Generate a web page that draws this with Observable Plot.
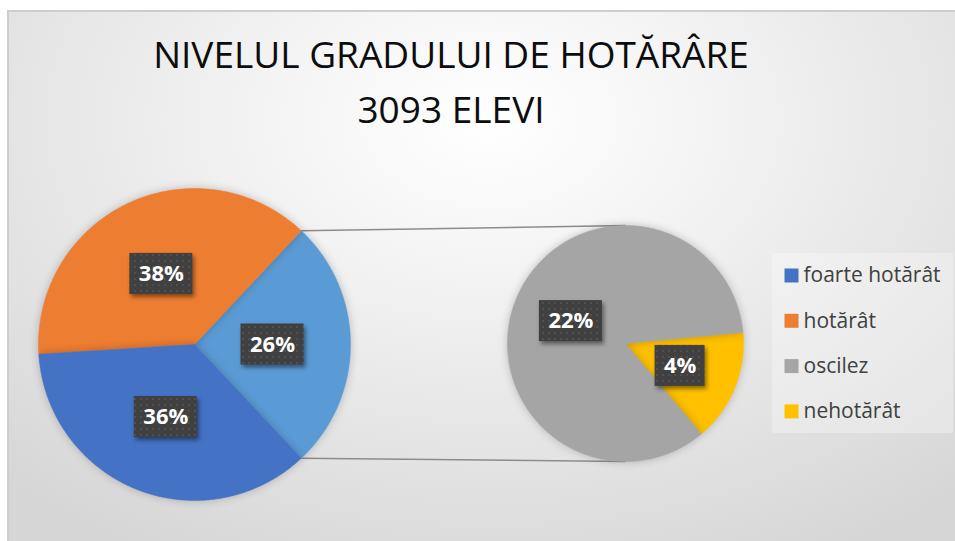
<!DOCTYPE html>
<html>
<head>
<meta charset="utf-8">
<script src="https://cdn.jsdelivr.net/npm/d3@7"></script>
<script src="https://cdn.jsdelivr.net/npm/@observablehq/plot@0.6"></script>
<style>
  body { margin: 0; background: #fff; }
  #wrap { position: relative; width: 955px; height: 541px; overflow: hidden; background: #fff; }
  #bg { position: absolute; left: 7px; top: 10px; width: 960px; height: 545px;
        border-top: 2px solid #cdcdcd; border-left: 2px solid #cdcdcd;
        background: radial-gradient(ellipse 75% 90% at 50% 20%, #ffffff 0%, #f4f4f4 30%, #d6d6d6 100%); }
  #title { position: absolute; left: 0; top: 26px; width: 902px; text-align: center;
           font-family: "Open Sans", sans-serif; font-size: 37px; line-height: 55px; color: #0d0d0d; }
  #plot { position: absolute; left: 0; top: 150px; }
</style>
</head>
<body>
<div id="wrap">
  <div id="bg"></div>
  <div id="title"></div>
  <div id="plot"></div>
</div>
<script>
// ---- data ----
const titleLines = ["NIVELUL GRADULUI DE HOTĂRÂRE", "3093 ELEVI"];
const categories = ["foarte hotărât", "hotărât", "oscilez", "nehotărât"];
const values = [36, 38, 22, 4];
const colors = ["#4472C4", "#ED7D31", "#A5A5A5", "#FFC000"];
const otherColor = "#5B9BD5";
const mainIdx = [0, 1];      // shown in the main pie
const secondIdx = [2, 3];    // split out into the secondary pie

// ---- layout ----
const W = 955, H = 391;
const pie1 = {cx: 194, cy: 194, r: 156};
const pie2 = {cx: 625, cy: 193, r: 118};
const pie2Start = -50;  // degrees, CCW
const legend = {x: 791, textX: 803, top: 125, step: 45.3};

document.getElementById("title").innerHTML = titleLines.join("<br>");

const total = d3.sum(values);
const otherVal = d3.sum(secondIdx, i => values[i]);

const slices = [];
const labelsData = [];
function addSlice(pie, key, a0, a1, color, label) {
  const pts = [{x: pie.cx, y: pie.cy}];
  const n = Math.ceil((a1 - a0) / 0.5);
  for (let k = 0; k <= n; k++) {
    const a = (a0 + (a1 - a0) * k / n) * Math.PI / 180;
    pts.push({x: pie.cx + pie.r * Math.cos(a), y: pie.cy - pie.r * Math.sin(a)});
  }
  pts.push({x: pie.cx, y: pie.cy});
  slices.push({key, color, pts});
  const m = ((a0 + a1) / 2) * Math.PI / 180;
  labelsData.push({label, x: pie.cx + 0.5 * pie.r * Math.cos(m), y: pie.cy - 0.5 * pie.r * Math.sin(m)});
}

// main pie: other, hotărât, foarte hotărât (CCW), "other" centred on the right
const mainSlices = [{key: "other", v: otherVal, color: otherColor},
  ...mainIdx.slice().reverse().map(i => ({key: categories[i], v: values[i], color: colors[i]}))];
let a = -(otherVal / total) * 180;
const otherRange = [];
for (const s of mainSlices) {
  const a1 = a + s.v / total * 360;
  if (s.key === "other") otherRange.push(a, a1);
  addSlice(pie1, s.key, a, a1, s.color, Math.round(s.v / total * 100) + "%");
  a = a1;
}
// secondary pie
a = pie2Start;
for (const i of secondIdx.slice().reverse()) {
  const a1 = a + values[i] / otherVal * 360;
  addSlice(pie2, categories[i], a, a1, colors[i], Math.round(values[i] / total * 100) + "%");
  a = a1;
}

const rad = d => d * Math.PI / 180;
const links = [
  {x1: pie1.cx + pie1.r * Math.cos(rad(otherRange[1])), y1: pie1.cy - pie1.r * Math.sin(rad(otherRange[1])), x2: pie2.cx, y2: pie2.cy - pie2.r},
  {x1: pie1.cx + pie1.r * Math.cos(rad(otherRange[0])), y1: pie1.cy - pie1.r * Math.sin(rad(otherRange[0])), x2: pie2.cx, y2: pie2.cy + pie2.r}
];

const boxW = d => 24 + 13 * d.label.length, boxH = 41;
const legendBox = [{x1: 772, x2: 953, y1: 103, y2: 283}];

const chart = Plot.plot({
  width: W, height: H, margin: 0,
  x: {domain: [0, W], range: [0, W], axis: null},
  y: {domain: [0, H], range: [0, H], axis: null},
  style: {background: "transparent", overflow: "visible"},
  marks: [
    Plot.link(links, {x1: "x1", y1: "y1", x2: "x2", y2: "y2", stroke: "#8c8c8c", strokeWidth: 1.5}),
    ...slices.map(s => Plot.line(s.pts, {x: "x", y: "y", fill: s.color, stroke: s.color, strokeWidth: 0.5, curve: "linear"})),
    Plot.rect(labelsData, {x1: d => d.x - boxW(d) / 2, x2: d => d.x + boxW(d) / 2, y1: d => d.y - boxH / 2, y2: d => d.y + boxH / 2, fill: "#404040"}),
    Plot.text(labelsData, {x: "x", y: "y", text: "label", fill: "white", fontWeight: "bold", fontSize: 22, fontFamily: "Open Sans"}),
    Plot.rect(legendBox, {x1: "x1", x2: "x2", y1: "y1", y2: "y2", fill: "white", fillOpacity: 0.3}),
    Plot.dot(categories, {x: legend.x, y: (d, i) => legend.top + i * legend.step, symbol: "square", r: 7.9, fill: (d, i) => colors[i]}),
    Plot.text(categories, {x: legend.textX, y: (d, i) => legend.top + i * legend.step, text: d => d, textAnchor: "start", fontSize: 21, fill: "#404040", fontFamily: "Open Sans"})
  ]
});
document.getElementById("plot").appendChild(chart);

// decorations: dotted pattern and shadows
const svg = d3.select(chart);
const defs = svg.insert("defs", ":first-child");
const pat = defs.append("pattern").attr("id", "dots").attr("patternUnits", "userSpaceOnUse").attr("width", 6).attr("height", 6);
pat.append("rect").attr("width", 6).attr("height", 6).attr("fill", "#404040");
pat.append("circle").attr("cx", 3).attr("cy", 3).attr("r", 0.9).attr("fill", "#575757");
const boxG = svg.selectAll('g[aria-label="rect"]').filter((d, i) => i === 0);
boxG.selectAll("rect").attr("fill", "url(#dots)");
boxG.style("filter", "drop-shadow(2px 3px 2px rgba(0,0,0,0.45))");
svg.selectAll('g[aria-label="line"]').style("filter", "drop-shadow(0 0 4px rgba(0,0,0,0.22))");
</script>
</body>
</html>
